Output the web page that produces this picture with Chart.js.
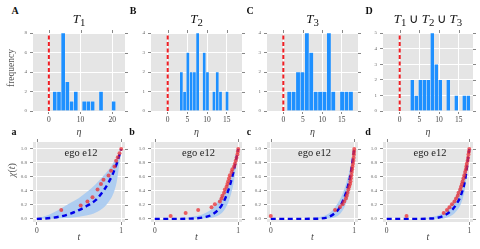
<!DOCTYPE html>
<html><head><meta charset="utf-8">
<script src="https://cdn.jsdelivr.net/npm/chart.js@4"></script>
<style>
body{margin:0;width:480px;height:249px;background:#fff;position:relative;overflow:hidden;font-family:'Liberation Serif',serif;}
canvas{position:absolute;}
.lbl{position:absolute;white-space:nowrap;color:#333;line-height:1;transform:translate(-50%,-50%);}
</style></head><body>
<script>
// ---------- DATA ----------
// Histogram bin centres (eta) and counts
const binsA   = [1.86,3.19,4.51,5.84,7.16,8.49,9.81,11.14,12.46,13.79,15.11,16.44,17.76,19.09,20.41];
const countsA = [2,2,8,3,1,2,0,1,1,1,0,2,0,0,1];
const binsB   = [3.47,4.30,5.13,5.96,6.79,7.62,8.45,9.28,10.11,10.94,11.77,12.60,13.43,14.26,15.09];
const countsB = [2,1,3,2,2,4,0,3,2,0,1,2,1,0,1];
const binsC   = [1.52,2.65,3.78,4.92,6.05,7.18,8.32,9.45,10.58,11.71,12.85,13.98,15.11,16.25,17.38];
const countsC = [1,1,2,2,4,3,1,1,1,4,1,0,1,1,1];
const binsD   = [3.21,4.23,5.25,6.26,7.28,8.30,9.32,10.33,11.35,12.37,13.39,14.41,15.42,16.44,17.46];
const countsD = [2,1,2,2,2,5,3,2,0,2,0,1,0,1,1];

// Tick values / labels
const etaTicksA = [0,10,20];
const etaTicks  = [0,5,10,15];
const freqTicksA = [0,2,4,6,8];
const freqTicksBC = [0,1,2,3,4];
const freqTicksD = [0,1,2,3,4,5];
const tTicks = [0,1];
const chiTicks = [0,0.2,0.4,0.6,0.8,1.0];
const chiTickLabels = ['0.0','0.2','0.4','0.6','0.8','1.0'];

// chi(t) curves on a shared t grid
const tGrid  = [0,0.1,0.2,0.3,0.4,0.5,0.6,0.7,0.8,0.85,0.9,0.95,1.0];
const meanA  = [0,0.005,0.018,0.04,0.075,0.125,0.19,0.27,0.42,0.52,0.64,0.8,1.0];
const upperA = [0,0.04,0.09,0.16,0.23,0.3,0.39,0.5,0.63,0.7,0.79,0.88,1.0];
const lowerA = [0,0,0.003,0.008,0.015,0.03,0.05,0.09,0.17,0.24,0.34,0.55,1.0];
const meanB  = [0,0,0,0,0.003,0.008,0.025,0.07,0.19,0.31,0.48,0.71,1.0];
const upperB = [0,0.001,0.004,0.01,0.02,0.04,0.08,0.16,0.33,0.44,0.6,0.78,1.0];
const lowerB = [0,0,0,0,0,0,0.005,0.02,0.08,0.16,0.3,0.55,1.0];
const meanC  = [0,0,0,0,0,0.001,0.005,0.03,0.12,0.22,0.37,0.6,1.0];
const upperC = [0,0,0,0,0.003,0.01,0.03,0.08,0.22,0.33,0.5,0.72,1.0];
const lowerC = [0,0,0,0,0,0,0,0.005,0.04,0.1,0.22,0.45,1.0];
const meanD  = [0,0,0,0,0,0.003,0.012,0.05,0.14,0.22,0.34,0.56,1.0];
const upperD = [0,0,0,0.003,0.008,0.015,0.04,0.1,0.24,0.36,0.52,0.74,1.0];
const lowerD = [0,0,0,0,0,0,0,0.01,0.06,0.12,0.22,0.45,1.0];

// observed points
const dotTA = [0.29,0.52,0.6,0.66,0.72,0.76,0.79,0.85,0.88,0.92,0.94,0.96,0.98,1.0];
const dotYA = [0.125,0.19,0.25,0.31,0.42,0.5,0.56,0.62,0.69,0.75,0.83,0.88,0.94,1.0];
const dotTB = [0.19,0.37,0.52,0.68,0.72,0.78,0.8,0.81,0.83,0.84,0.86,0.87,0.88,0.89,0.9,0.92,0.93,0.95,0.96,0.97,0.98,0.99,0.995,1.0];
const dotYB = [0.042,0.083,0.125,0.167,0.208,0.25,0.29,0.33,0.375,0.42,0.46,0.5,0.54,0.58,0.625,0.67,0.71,0.75,0.79,0.83,0.875,0.92,0.96,1.0];
const dotTC = [0,0.77,0.83,0.86,0.88,0.9,0.91,0.92,0.93,0.94,0.95,0.955,0.96,0.965,0.97,0.975,0.98,0.985,0.99,0.993,0.996,0.998,1.0];
const dotYC = [0.042,0.125,0.17,0.21,0.25,0.29,0.33,0.375,0.42,0.46,0.5,0.54,0.58,0.625,0.67,0.71,0.75,0.79,0.83,0.875,0.92,0.96,1.0];
const dotTD = [0.24,0.69,0.73,0.76,0.79,0.82,0.84,0.86,0.87,0.89,0.9,0.91,0.92,0.93,0.94,0.95,0.96,0.965,0.97,0.98,0.985,0.99,0.995,1.0];
const dotYD = [0.042,0.083,0.125,0.167,0.208,0.25,0.29,0.33,0.375,0.42,0.46,0.5,0.54,0.58,0.625,0.67,0.71,0.75,0.79,0.83,0.875,0.92,0.96,1.0];

const topTitles = ['<i>T</i><sub>1</sub>','<i>T</i><sub>2</sub>','<i>T</i><sub>3</sub>','<i>T</i><sub>1</sub>&thinsp;∪&thinsp;<i>T</i><sub>2</sub>&thinsp;∪&thinsp;<i>T</i><sub>3</sub>'];
const topLetters = ['A','B','C','D'];
const botLetters = ['a','b','c','d'];
const egoLabel = 'ego e12';

// ---------- LAYOUT ----------
const cols = [{l:33,r:125},{l:151,r:242},{l:267,r:358},{l:383,r:473}];
const TOP = {t:33,b:111}, BOT = {t:142,b:222};
const PL=30, PT=6, PR=8, PB=16;

function makeCanvas(rect){
  const c=document.createElement('canvas');
  const w=rect.r-rect.l+PL+PR, h=rect.b-rect.t+PT+PB;
  c.width=w; c.height=h;
  c.style.left=(rect.l-PL)+'px'; c.style.top=(rect.t-PT)+'px';
  c.style.width=w+'px'; c.style.height=h+'px';
  document.body.appendChild(c);
  return c;
}
const bgPlugin={id:'bg',beforeDraw(ch){const a=ch.chartArea,ctx=ch.ctx;ctx.save();ctx.fillStyle='#e5e5e5';ctx.fillRect(a.left,a.top,a.right-a.left,a.bottom-a.top);ctx.restore();}};
const mirrorPlugin={id:'mirror',afterDraw(ch){const a=ch.chartArea,ctx=ch.ctx;ctx.save();ctx.strokeStyle='#888';ctx.lineWidth=1;ctx.beginPath();
  ch.scales.x.ticks.forEach(t=>{const p=Math.round(ch.scales.x.getPixelForValue(t.value))+0.5;ctx.moveTo(p,a.top-3);ctx.lineTo(p,a.top);});
  ch.scales.y.ticks.forEach(t=>{const p=Math.round(ch.scales.y.getPixelForValue(t.value))+0.5;ctx.moveTo(a.right,p);ctx.lineTo(a.right+3,p);});
  ctx.stroke();ctx.restore();}};

function axis(min,max,ticks,labels,isX){
  return {type:'linear',min,max,offset:false,
    afterBuildTicks:s=>{s.ticks=ticks.map(v=>({value:v}));},
    afterFit:s=>{ if(isX) s.height=PB; else s.width=PL; },
    grid:{color:'#ffffff',lineWidth:1,tickColor:'#888',tickLength:3,drawTicks:true,offset:false},
    border:{display:false},
    ticks:{padding:isX?2:3,color:isX?'#444':'#666',font:{family:'Liberation Serif',size:isX?7.5:5},
      callback:(v,i)=>labels[i],maxRotation:0,minRotation:0,autoSkip:false}
  };
}
function baseOptions(scales){
  return {responsive:false,animation:false,devicePixelRatio:1,
    layout:{padding:{left:0,top:PT,right:PR,bottom:0}},
    plugins:{legend:{display:false},tooltip:{enabled:false}},
    scales};
}

function histChart(col,bins,counts,xmin,xmax,xt,ymax,yt){
  const c=makeCanvas({l:col.l,r:col.r,t:TOP.t,b:TOP.b});
  new Chart(c,{type:'bar',data:{datasets:[
    {type:'line',data:[{x:0,y:0},{x:0,y:ymax}],borderColor:'rgb(240,30,36)',borderWidth:2,borderDash:[4,2.5],pointRadius:0,fill:false},
    {type:'bar',data:bins.map((x,i)=>({x,y:counts[i]})),backgroundColor:'rgb(30,144,255)',borderColor:'rgba(255,255,255,0.35)',borderWidth:0.6,barPercentage:1,categoryPercentage:1}
  ]},options:baseOptions({x:axis(xmin,xmax,xt,xt.map(String),true),y:axis(0,ymax,yt,yt.map(String),false)}),
  plugins:[bgPlugin,mirrorPlugin]});
}
function chiChart(col,mean,upper,lower,dt,dy){
  const c=makeCanvas({l:col.l,r:col.r,t:BOT.t,b:BOT.b});
  const pts=a=>tGrid.map((t,i)=>({x:t,y:a[i]}));
  new Chart(c,{type:'line',data:{datasets:[
    {data:dt.map((t,i)=>({x:t,y:dy[i]})),showLine:false,pointRadius:2,pointBackgroundColor:'rgba(235,45,50,0.75)',pointBorderWidth:0},
    {data:pts(mean),borderColor:'#0000e8',borderWidth:2.4,borderDash:[5,3.5],pointRadius:0,fill:false,cubicInterpolationMode:'monotone'},
    {data:pts(upper),borderWidth:0,borderColor:'rgba(0,0,0,0)',backgroundColor:'rgb(174,205,240)',pointRadius:0,fill:'+1',cubicInterpolationMode:'monotone'},
    {data:pts(lower),borderWidth:0,borderColor:'rgba(0,0,0,0)',pointRadius:0,fill:false,cubicInterpolationMode:'monotone'}
  ]},options:baseOptions({x:axis(-0.045,1.045,tTicks,tTicks.map(String),true),y:axis(-0.045,1.1,chiTicks,chiTickLabels,false)}),
  plugins:[bgPlugin,mirrorPlugin]});
}

histChart(cols[0],binsA,countsA,-5,24,etaTicksA,8,freqTicksA);
histChart(cols[1],binsB,countsB,-4.25,18.9,etaTicks,4,freqTicksBC);
histChart(cols[2],binsC,countsC,-4.2,19.2,etaTicks,4,freqTicksBC);
histChart(cols[3],binsD,countsD,-4.25,18.65,etaTicks,5,freqTicksD);
chiChart(cols[0],meanA,upperA,lowerA,dotTA,dotYA);
chiChart(cols[1],meanB,upperB,lowerB,dotTB,dotYB);
chiChart(cols[2],meanC,upperC,lowerC,dotTC,dotYC);
chiChart(cols[3],meanD,upperD,lowerD,dotTD,dotYD);

// ---------- TEXT ----------
function txt(html,x,y,css){const d=document.createElement('div');d.className='lbl';d.innerHTML=html;d.style.left=x+'px';d.style.top=y+'px';Object.assign(d.style,css||{});document.body.appendChild(d);}
const letterX=[15,133,250,369];
cols.forEach((c,i)=>{
  const cx=(c.l+c.r)/2;
  txt(topLetters[i],letterX[i],11,{fontSize:'10px',fontWeight:'bold',color:'#111'});
  txt(botLetters[i],letterX[i]-1,132,{fontSize:'10px',fontWeight:'bold',color:'#111'});
  txt(topTitles[i],cx,19.5,{fontSize:'13px',color:'#111'});
  txt('<i>η</i>',cx,132,{fontSize:'10px',color:'#444'});
  txt('<i>t</i>',cx,237,{fontSize:'10px',color:'#444'});
  txt(egoLabel,cx+2,153,{fontSize:'10.5px',color:'#222'});
});
txt('frequency',12,68,{fontSize:'9.5px',color:'#555',transform:'translate(-50%,-50%) rotate(-90deg)'});
txt('<i>χ</i>(<i>t</i>)',12,170,{fontSize:'10px',color:'#555',transform:'translate(-50%,-50%) rotate(-90deg)'});
</script>
</body></html>
